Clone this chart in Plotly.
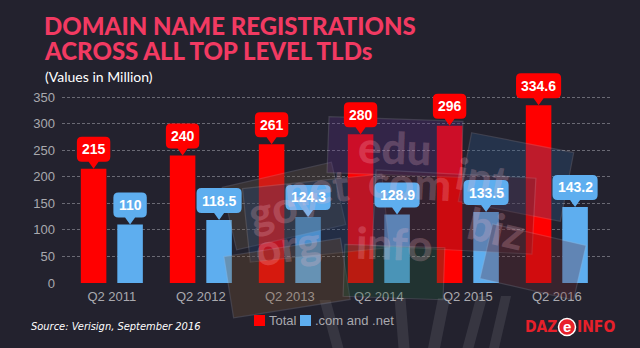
import numpy as np
import plotly.graph_objects as go

# ---- data -------------------------------------------------------------
quarters = ["Q2 2011", "Q2 2012", "Q2 2013", "Q2 2014", "Q2 2015", "Q2 2016"]
total = [215, 240, 261, 280, 296, 334.6]
com_net = [110, 118.5, 124.3, 128.9, 133.5, 143.2]
y_ticks = [0, 50, 100, 150, 200, 250, 300, 350]

# ---- styling ----------------------------------------------------------
BG = "#23222e"
RED = "#ff0000"
BLUE = "#5eaeef"
TITLE = "#f23a62"
GREY = "#a9a9ae"
W, H = 640, 348
M_L, M_R, M_T, M_B = 62, 28, 68, 65
PW, PH = W - M_L - M_R, H - M_T - M_B
# 350 units of value span 186 px; headroom above 350 keeps the callouts unclipped
Y_TOP = PH * 350 / 186

idx = np.arange(len(quarters))
BAR_W = 0.287
OFF = 0.205

fig = go.Figure()
fig.add_bar(x=idx - OFF, y=total, width=BAR_W, marker_color=RED,
            marker_line_width=0, name="Total", showlegend=False)
fig.add_bar(x=idx + OFF, y=com_net, width=BAR_W, marker_color=BLUE,
            marker_line_width=0, name=".com and .net", showlegend=False)


def px2paper(px, py):
    return (px - M_L) / PW, (M_T + PH - py) / PH


# ---- decorative domain signposts behind the bars ----------------------
# (centre x, centre y, width, height, angle, fill, word)
signs = [
    (284, 206, 112, 64, 13, "#6a5a48", "gov"),
    (395, 147, 134, 56, -2, "#5a2f86", "edu"),
    (516, 177, 104, 70, -11, "#2a5a8e", "int"),
    (316, 218, 140, 74, 6, "#23487a", "net"),
    (454, 212, 160, 76, -3, "#5a2232", "com"),
    (287, 278, 118, 62, 9, "#7a5430", "org"),
    (394, 272, 100, 52, -2, "#1f5a38", "info"),
    (533, 262, 96, 56, -13, "#6a2a30", "biz"),
]
# signpost poles: top x, top y, bottom x, bottom y, width
poles = [(325, 300, 338, 348, 11), (400, 298, 404, 348, 11), (444, 298, 434, 348, 12),
         (482, 296, 468, 348, 11), (506, 296, 494, 348, 10)]

shapes = []
for x0, y0, x1, y1, wd in poles:
    pts = [(x0 - wd / 2, y0), (x0 + wd / 2, y0), (x1 + wd / 2, y1), (x1 - wd / 2, y1)]
    path = "M" + " L".join(f"{px2paper(a, b)[0]:.4f},{px2paper(a, b)[1]:.4f}" for a, b in pts) + " Z"
    shapes.append(dict(type="path", xref="paper", yref="paper", path=path,
                       fillcolor="#55555f", opacity=0.4, line_width=0, layer="below"))

annotations = []
for cx, cy, sw, sh, ang, col, word in signs:
    a = np.deg2rad(ang)
    ca, sa = np.cos(a), np.sin(a)
    pts = []
    for dx, dy in [(-sw / 2, -sh / 2), (sw / 2, -sh / 2), (sw / 2, sh / 2), (-sw / 2, sh / 2)]:
        # screen y grows downward; positive angle rotates counter-clockwise
        pts.append((cx + dx * ca + dy * sa, cy - dx * sa + dy * ca))
    path = "M" + " L".join(f"{px2paper(a_, b_)[0]:.4f},{px2paper(a_, b_)[1]:.4f}" for a_, b_ in pts) + " Z"
    shapes.append(dict(type="path", xref="paper", yref="paper", path=path,
                       fillcolor=col, opacity=0.3,
                       line=dict(color="rgba(190,190,205,0.6)", width=1.2),
                       layer="above"))
    tx, ty = px2paper(cx, cy)
    annotations.append(dict(x=tx, y=ty, xref="paper", yref="paper", text=word,
                            showarrow=False, textangle=-ang,
                            font=dict(family="Lato", size=44, weight=900,
                                      color="rgba(255,190,205,0.22)")))


# ---- value callouts ---------------------------------------------------
def callout_path(text):
    tw = sum(3.9 if ch == "." else 7.8 for ch in text)
    w = tw + 10
    h, p, r, hw = 25, 7, 5, 5
    L, R = -w / 2, w / 2
    b, t = p, p + h
    return (f"M0,0 L{-hw},{b} L{L + r},{b} Q{L},{b} {L},{b + r} L{L},{t - r} "
            f"Q{L},{t} {L + r},{t} L{R - r},{t} Q{R},{t} {R},{t - r} L{R},{b + r} "
            f"Q{R},{b} {R - r},{b} L{hw},{b} Z")


for xs, ys, col in [(idx - OFF, total, RED), (idx + OFF, com_net, BLUE)]:
    for xv, yv in zip(xs, ys):
        label = f"{yv:g}"
        shapes.append(dict(type="path", xref="x", yref="y", xsizemode="pixel",
                           ysizemode="pixel", xanchor=float(xv), yanchor=float(yv),
                           path=callout_path(label), fillcolor=col, line_width=0,
                           layer="above"))
        annotations.append(dict(x=float(xv), y=float(yv), xref="x", yref="y",
                                text=f"<b>{label}</b>", showarrow=False, yshift=19.5,
                                yanchor="middle", xanchor="center",
                                font=dict(family="Liberation Sans", size=14, color="white")))

# ---- titles, legend and footer (positions in page pixels) -------------
texts = [
    ("DOMAIN NAME REGISTRATIONS", 42, 25, "left",
     dict(family="Lato", size=24, weight=900, color=TITLE)),
    ("ACROSS ALL TOP LEVEL TLDs", 42, 51, "left",
     dict(family="Lato", size=24, weight=900, color=TITLE)),
    ("(Values in Million)", 43, 76, "left",
     dict(family="Lato", size=14, color="white")),
    ("<i>Source: Verisign, September 2016</i>", 29, 326, "left",
     dict(family="DejaVu Sans Condensed", size=11, color="white")),
    ("Total", 267, 320, "left", dict(family="Liberation Sans", size=13, color=GREY)),
    (".com and .net", 313, 320, "left", dict(family="Liberation Sans", size=13, color=GREY)),
    ("<b>DAZ</b>", 559, 327, "right",
     dict(family="DejaVu Sans Condensed", size=15.5, color="#e8202a")),
    ("<b>INFO</b>", 575, 327, "left",
     dict(family="DejaVu Sans Condensed", size=15.5, color="#e8202a")),
    ("<b>e</b>", 567, 326, "center", dict(family="Liberation Sans", size=15, color="white")),
]
for txt, px, py, anchor, fnt in texts:
    xp, yp = px2paper(px, py)
    annotations.append(dict(x=xp, y=yp, xref="paper", yref="paper", text=txt,
                            showarrow=False, xanchor=anchor, yanchor="middle", font=fnt))

# legend squares and logo circle
for (sx, col) in [(254, RED), (300, BLUE)]:
    x0, y0 = px2paper(sx, 315)
    x1, y1 = px2paper(sx + 11, 326)
    shapes.append(dict(type="rect", xref="paper", yref="paper", x0=x0, y0=y0, x1=x1, y1=y1,
                       fillcolor=col, line_width=0))
cx0, cy0 = px2paper(558.5, 318.5)
cx1, cy1 = px2paper(575.5, 335.5)
shapes.append(dict(type="circle", xref="paper", yref="paper", x0=cx0, y0=cy0, x1=cx1, y1=cy1,
                   fillcolor="#e8202a", line=dict(color="white", width=1.5)))

fig.update_layout(
    width=W, height=H, margin=dict(l=M_L, r=M_R, t=M_T, b=M_B),
    paper_bgcolor=BG, plot_bgcolor=BG, barmode="overlay",
    shapes=shapes, annotations=annotations, showlegend=False,
    font=dict(family="Liberation Sans", color=GREY),
    xaxis=dict(range=[-0.56, 5.62], tickvals=idx, ticktext=quarters, showgrid=False,
               zeroline=False, showline=False, ticks="", ticklabelstandoff=4,
               tickfont=dict(size=13, color=GREY), fixedrange=True),
    yaxis=dict(range=[0, Y_TOP], tickvals=y_ticks, showgrid=True, gridcolor="#6a6a74",
               griddash="3px,2px", gridwidth=1, zeroline=False, showline=False, ticks="",
               ticklabelstandoff=6, tickfont=dict(size=13, color=GREY), fixedrange=True),
)

fig.write_html("out.html")
